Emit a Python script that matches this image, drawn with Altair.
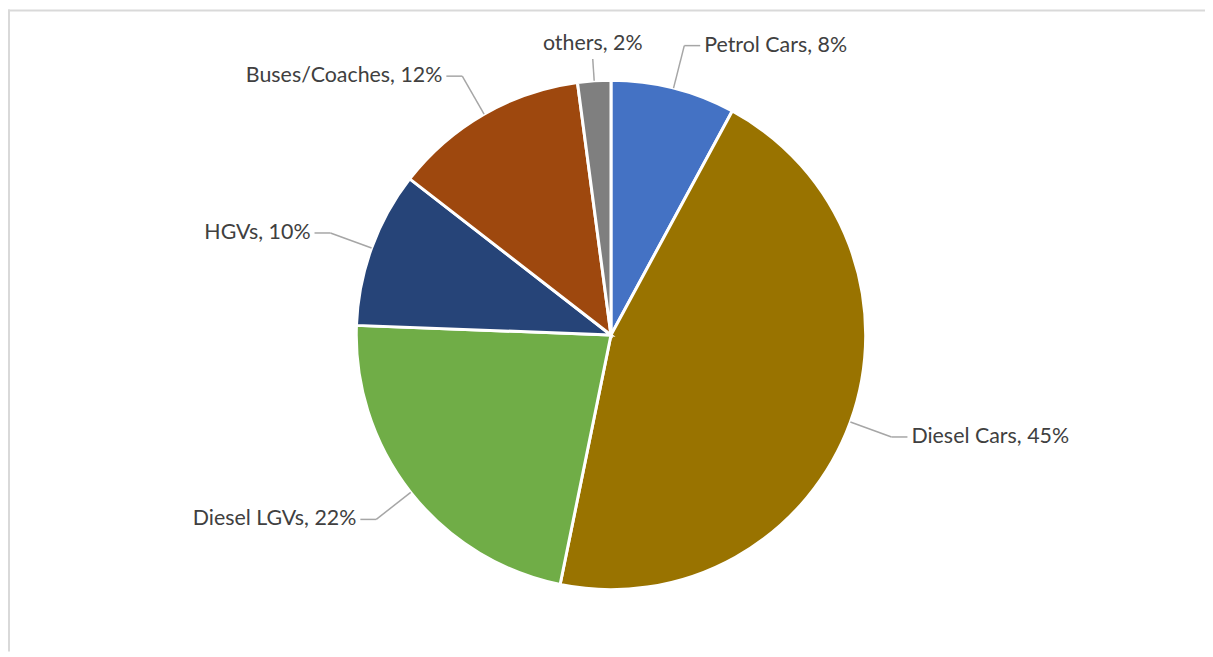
import altair as alt
import pandas as pd

categories = ["Petrol Cars", "Diesel Cars", "Diesel LGVs", "HGVs", "Buses/Coaches", "others"]
shares = [7.9, 45.3, 22.4, 9.9, 12.4, 2.1]
colors = ["#4472C4", "#997300", "#70AD47", "#264478", "#9E480E", "#7F7F7F"]

df = pd.DataFrame({"category": categories, "value": shares, "order": list(range(len(categories)))})

W, H = 1203, 645
CX, CY, R = 606, 327, 256
RE = 300
RT = 278
SEG = 16
FONT = "Lato"
FS = 21.5
TXT = "#404040"
LINE = "#A6A6A6"

base = (
    alt.Chart(df)
    .transform_joinaggregate(total="sum(value)")
    .transform_window(cum="sum(value)", sort=[alt.SortField("order")], frame=[None, 0])
    .transform_calculate(
        mid="(datum.cum - datum.value/2)/datum.total*2*PI",
        label="datum.category + ', ' + format(datum.value/datum.total, '.0%')",
        s="sin(datum.mid)",
        c="cos(datum.mid)",
        side="abs(datum.s) < 0.15 ? 0 : (datum.s > 0 ? 1 : -1)",
        re=f"datum.side == 0 ? {RT} : {RE}",
        x0=f"{CX} + {R}*datum.s",
        y0=f"{CY} - {R}*datum.c",
        x1=f"{CX} + datum.re*datum.s",
        y1=f"{CY} - datum.re*datum.c",
        xe=f"datum.x1 + {SEG}*datum.side",
        tx="datum.xe + 4*datum.side",
        ty="datum.side == 0 ? datum.y1 - 4 : datum.y1",
    )
)

pie = alt.Chart(df).mark_arc(outerRadius=R, stroke="white", strokeWidth=3).encode(
    theta=alt.Theta("value:Q", stack=True),
    color=alt.Color("category:N", scale=alt.Scale(domain=categories, range=colors), legend=None),
    order=alt.Order("order:Q"),
    x=alt.value(CX),
    y=alt.value(CY),
)

lead1 = base.mark_rule(color=LINE, strokeWidth=1.5).encode(
    x=alt.X("x0:Q", scale=None, axis=None),
    y=alt.Y("y0:Q", scale=None, axis=None),
    x2="x1:Q",
    y2="y1:Q",
)
lead2 = base.transform_filter("datum.side != 0").mark_rule(color=LINE, strokeWidth=1.5).encode(
    x=alt.X("x1:Q", scale=None, axis=None),
    y=alt.Y("y1:Q", scale=None, axis=None),
    x2="xe:Q",
    y2="y1:Q",
)

def txt(cond, align, baseline):
    return base.transform_filter(cond).mark_text(
        font=FONT, fontSize=FS, color=TXT, align=align, baseline=baseline
    ).encode(
        x=alt.X("tx:Q", scale=None, axis=None),
        y=alt.Y("ty:Q", scale=None, axis=None),
        text="label:N",
    )

t_right = txt("datum.side == 1", "left", "middle")
t_left = txt("datum.side == -1", "right", "middle")
t_top = txt("datum.side == 0", "center", "bottom")

frame_df = pd.DataFrame({"k": [0]})
left_border = alt.Chart(frame_df).mark_rule(color="#D9D9D9", strokeWidth=2).encode(
    x=alt.value(1), y=alt.value(0), y2=alt.value(H)
)
top_border = alt.Chart(frame_df).mark_rule(color="#D9D9D9", strokeWidth=2).encode(
    x=alt.value(0), x2=alt.value(W), y=alt.value(1)
)

chart = (
    alt.layer(left_border, top_border, pie, lead1, lead2, t_right, t_left, t_top)
    .properties(width=W, height=H, padding=0, autosize=alt.AutoSizeParams(type="none"))
    .configure_view(stroke=None)
)

chart.save("out.html", embed_options={"renderer": "svg", "actions": False})
